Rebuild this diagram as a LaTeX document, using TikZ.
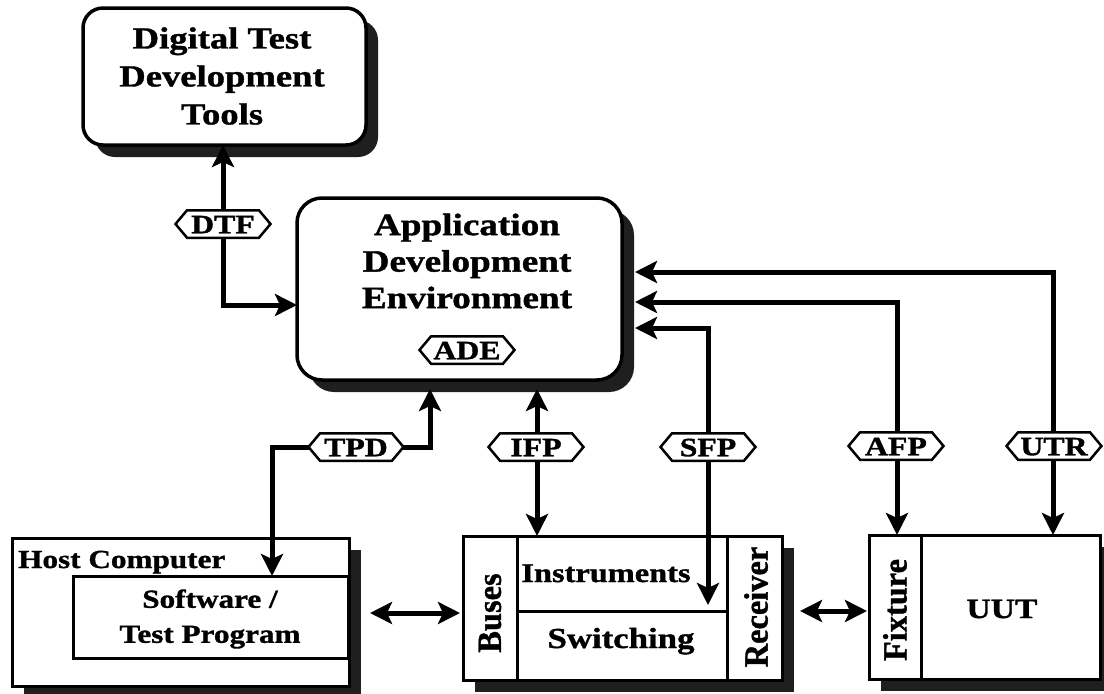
\documentclass[tikz,border=0pt]{standalone}
\usepackage{fontspec}
\usepackage{graphicx}
\setmainfont{Liberation Serif}[FakeStretch=1.2, FakeBold=1.2]
\usetikzlibrary{arrows.meta,calc,shadows,shapes.symbols}
\begin{document}
\begin{tikzpicture}[x=1pt,y=-1pt,
  >={Stealth[length=22pt,width=22pt,inset=5pt]},
  txt/.style 2 args={font=\fontsize{#1}{#2}\selectfont\bfseries, inner sep=0pt},
  shad/.style={drop shadow={shadow xshift=12pt, shadow yshift=-12pt, fill=black!88, opacity=1}},
  rbox/.style={draw, line width=3.5pt, fill=white, inner sep=0pt, outer sep=0pt},
  sbox/.style={draw, line width=3pt, fill=white, inner sep=0pt, outer sep=0pt},
  divline/.style={line width=3pt},
  conn/.style={line width=5pt},
  hexlab/.style={signal, signal to=east and west, signal pointer angle=100, draw, line width=2.5pt,
    fill=white, font=\fontsize{26.5}{26.5}\selectfont\bfseries, text height=18.5pt, text depth=0pt,
    inner xsep=1pt, inner ysep=4.5pt, minimum width=95pt}
]
\path[use as bounding box, fill=white] (0,0) rectangle (1104,694);

% ---------- boxes ----------
\node[rbox, shad, rounded corners=20pt, minimum width=283pt, minimum height=137pt] (dtdt) at (224.5,76.5) {};
\node[rbox, shad, rounded corners=25pt, minimum width=325pt, minimum height=182pt] (ade) at (459.5,289) {};
\node[sbox, shad, minimum width=337pt, minimum height=148pt] (host) at (180.5,612) {};
\node[sbox, minimum width=275pt, minimum height=82pt] (soft) at (210.5,617) {};
\node[sbox, shad, minimum width=319pt, minimum height=144pt] (inst) at (622.5,608) {};
\node[sbox, shad, minimum width=231pt, minimum height=144pt] (fix) at (984.5,607) {};

% dividers
\coordinate (d1) at (517,611);
\coordinate (d2) at (727,611);
\coordinate (d3) at (921,607);
\draw[divline] (inst.north -| d1) -- (inst.south -| d1);
\draw[divline] (inst.north -| d2) -- (inst.south -| d2);
\draw[divline] (d1) -- (d2);
\draw[divline] (fix.north -| d3) -- (fix.south -| d3);

% ---------- connector coordinates ----------
\coordinate (cdtf) at (223,305);
\coordinate (ct1) at (272,447);
\coordinate (ct2) at (430,447);
\coordinate (ci) at (537,447);
\coordinate (cs1) at (708,328);
\coordinate (cs2) at (708,605);
\coordinate (ca) at (897,302);
\coordinate (cu) at (1053,272);
\coordinate (ch) at (0,613);
\coordinate (cf) at (0,611);
\coordinate (pdtf) at (223,224);
\coordinate (ptpd) at (356,447);

% ---------- connectors ----------
\draw[conn,<->] (dtdt.south -| cdtf) |- (ade.west |- cdtf);
\draw[conn,->] (ptpd) -| (soft.north -| ct1);
\draw[conn,->] (ptpd) -| ($(ade.south -| ct2)+(0,9)$);
\draw[conn,<->] ($(ade.south -| ci)+(0,9)$) -- (inst.north -| ci);
\draw[conn,<->] ($(ade.east |- cs1)+(13,0)$) -| (cs2);
\draw[conn,<->] ($(ade.east |- ca)+(13,0)$) -| (fix.north -| ca);
\draw[conn,<->] ($(ade.east |- cu)+(13,0)$) -| (fix.north -| cu);
\draw[conn,<->] ($(host.east |- ch)+(21,0)$) -- ($(inst.west |- ch)+(-3,0)$);
\draw[conn,<->] ($(inst.east |- cf)+(18,0)$) -- ($(fix.west |- cf)+(-2,0)$);

% ---------- hex labels ----------
\node[hexlab] (dtf) at (pdtf) {DTF};
\node[hexlab] (tpd) at (ptpd) {TPD};
\node[hexlab] (ifp) at (536,447) {IFP};
\node[hexlab] (sfp) at (708,447) {SFP};
\node[hexlab] (afp) at (896,446) {AFP};
\node[hexlab] (utr) at (1054,446) {UTR};
\node[hexlab] (adel) at (467,350) {ADE};

% ---------- texts ----------
\node[txt={30.5}{38}, align=center] (dtdtt) at (222,76) {Digital Test\\Development\\Tools};
\node[txt={31}{36.5}, align=center] (adet) at (467,261) {Application\\Development\\Environment};
\node[txt={26}{30}, anchor=base west] (hostt) at (18,568) {Host Computer};
\node[txt={26}{35}, align=center] (softt) at (210,619) {Software /\\Test Program};
\node[txt={27}{30}, anchor=base] (instt) at (606,582) {Instruments};
\node[txt={29}{30}, anchor=base] (swt) at (621,648) {Switching};
\node[txt={27}{30}] (buses) at (490,613) {\scalebox{1.25}[1]{\rotatebox{90}{Buses}}};
\node[txt={27}{30}] (recv) at (756,607) {\scalebox{1.25}[1]{\rotatebox{90}{Receiver}}};
\node[txt={27}{30}] (fixt) at (895,610) {\scalebox{1.25}[1]{\rotatebox{90}{Fixture}}};
\node[txt={28}{30}] (uut) at (1002,609) {UUT};
\end{tikzpicture}
\end{document}
